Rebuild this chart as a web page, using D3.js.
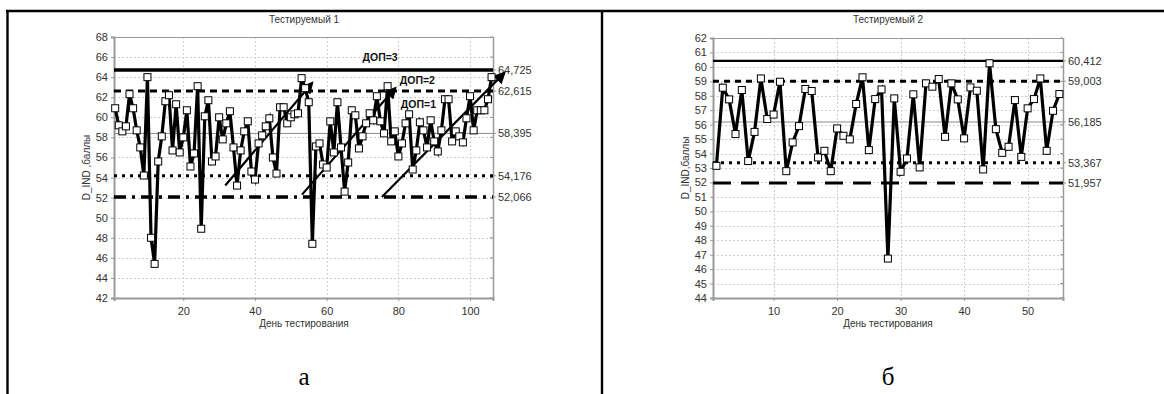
<!DOCTYPE html>
<html>
<head>
<meta charset="utf-8">
<script src="https://cdn.jsdelivr.net/npm/d3@7"></script>
<style>
  body { margin: 0; background: #fff; }
  svg { display: block; }
  text { font-family: "Liberation Sans", Arial, sans-serif; }
</style>
</head>
<body>
<svg id="chart" width="1164" height="394"></svg>
<script>
// ---- Data: daily D_IND scores (баллы) ----
const valuesA = [
  60.9, 59.2, 58.6, 59.1, 62.3, 60.9, 58.7, 57.0, 54.2, 64.0,
  48.0, 45.4, 55.6, 58.1, 61.6, 62.2, 56.7, 61.3, 56.5, 58.0,
  60.7, 55.1, 56.4, 63.1, 48.9, 60.1, 61.7, 55.6, 56.1, 60.0,
  57.8, 59.4, 60.6, 57.0, 53.2, 56.7, 58.6, 59.6, 54.6, 53.8,
  57.4, 58.2, 59.1, 59.9, 56.0, 54.4, 61.0, 61.0, 59.4, 60.0,
  60.3, 60.4, 63.9, 62.9, 61.5, 47.4, 57.1, 57.4, 55.3, 55.0,
  59.6, 56.5, 61.5, 57.0, 52.6, 55.5, 60.7, 60.2, 56.9, 58.1,
  59.4, 60.4, 59.7, 62.1, 59.6, 58.4, 63.1, 57.6, 58.6, 56.1,
  57.4, 59.4, 60.3, 54.8, 56.7, 59.5, 58.7, 57.0, 59.7, 57.6,
  56.6, 58.7, 61.8, 61.8, 57.6, 58.6, 58.1, 57.5, 59.9, 62.1,
  58.7, 60.7, 60.7, 60.7, 61.8, 64.0
];
const valuesB = [
  53.15, 58.56, 57.75, 55.35, 58.40, 53.48, 55.50, 59.20, 56.39, 56.70,
  58.97, 52.78, 54.77, 55.90, 58.47, 58.33, 53.73, 54.19, 52.78, 55.74,
  55.23, 54.98, 57.43, 59.28, 54.24, 57.77, 58.44, 46.73, 57.82, 52.74,
  53.66, 58.10, 53.04, 58.86, 58.63, 59.16, 55.16, 58.86, 57.75, 55.05,
  58.58, 58.35, 52.90, 60.25, 55.69, 54.05, 54.47, 57.70, 53.77, 57.13,
  57.77, 59.20, 54.19, 56.96, 58.12
];

// Control limits (ДОП levels, mean, lower limits)
const limitsA = [64.725, 62.615, 58.395, 54.176, 52.066];
const limitsB = [60.412, 59.003, 56.185, 53.367, 51.957];

// Axis ticks
const xTicksA = [20, 40, 60, 80, 100];
const yTicksA = [42, 44, 46, 48, 50, 52, 54, 56, 58, 60, 62, 64, 66, 68];
const xTicksB = [10, 20, 30, 40, 50];
const yTicksB = [44, 45, 46, 47, 48, 49, 50, 51, 52, 53, 54, 55, 56, 57, 58, 59, 60, 61, 62];

// Trend arrows (day, score) and level captions for subject 1
const arrowsA = [
  { from: [31.7, 53.2], to: [55.9, 63.4] },
  { from: [53.1, 52.3], to: [79.1, 62.9] },
  { from: [75.4, 52.07], to: [109.5, 64.4] }
];
const levelLabelsA = [
  { text: "ДОП=3", day: 74.9, value: 65.98 },
  { text: "ДОП=2", day: 85.3, value: 63.72 },
  { text: "ДОП=1", day: 85.6, value: 61.33 }
];

const titles = ["Тестируемый 1", "Тестируемый 2"];
const xAxisTitle = "День тестирования";
const yAxisTitles = ["D_IND ,баллы", "D_IND,баллы"];
const panelLetters = ["а", "б"];

const svg = d3.select("#chart");

// Table frame around the two panels
const frame = svg.append("g").attr("stroke", "#000").attr("stroke-width", 2.4);
frame.append("line").attr("x1", 6).attr("x2", 1164).attr("y1", 11).attr("y2", 11);
frame.append("line").attr("x1", 7.5).attr("x2", 7.5).attr("y1", 10).attr("y2", 394);
frame.append("line").attr("x1", 602).attr("x2", 602).attr("y1", 10).attr("y2", 394);

// arrowhead marker
svg.append("defs").append("marker")
  .attr("id", "arrowhead")
  .attr("viewBox", "0 0 10 10")
  .attr("refX", 8).attr("refY", 5)
  .attr("markerWidth", 6).attr("markerHeight", 5.5)
  .attr("markerUnits", "strokeWidth")
  .attr("orient", "auto")
  .append("path").attr("d", "M0,0 L10,5 L0,10 z").attr("fill", "#000");

const fmtComma = v => d3.format(".3f")(v).replace(".", ",");

function drawPanel(cfg) {
  const g = svg.append("g");
  const x = d3.scaleLinear().domain(cfg.xDomain).range([cfg.left, cfg.right]);
  const y = d3.scaleLinear().domain(cfg.yDomain).range([cfg.bottom, cfg.top]);

  // grid
  const grid = g.append("g").attr("stroke", "#d0ccd0").attr("stroke-width", 1)
    .attr("stroke-dasharray", "2,2");
  grid.selectAll("line.h").data(cfg.yTicks).join("line")
    .attr("x1", cfg.left).attr("x2", cfg.right)
    .attr("y1", d => Math.round(y(d)) + 0.5).attr("y2", d => Math.round(y(d)) + 0.5);
  grid.selectAll("line.v").data(cfg.xTicks).join("line")
    .attr("y1", cfg.top).attr("y2", cfg.bottom)
    .attr("x1", d => Math.round(x(d)) + 0.5).attr("x2", d => Math.round(x(d)) + 0.5);

  // plot box: top/right thin, left/bottom via axes
  g.append("line").attr("x1", cfg.left).attr("x2", cfg.right)
    .attr("y1", cfg.top + 0.5).attr("y2", cfg.top + 0.5).attr("stroke", "#9a9a9a");
  g.append("line").attr("x1", cfg.right + 0.5).attr("x2", cfg.right + 0.5)
    .attr("y1", cfg.top).attr("y2", cfg.bottom).attr("stroke", "#9a9a9a").attr("stroke-width", 1.5);

  // left axis
  const yAxis = g.append("g").attr("transform", `translate(${cfg.left},0)`)
    .call(d3.axisLeft(y).tickValues(cfg.yTicks).tickSize(3).tickPadding(3).tickFormat(d3.format("d")));
  yAxis.select(".domain").attr("stroke", "#999").attr("stroke-width", 2);
  yAxis.selectAll(".tick line").attr("stroke", "#999");
  yAxis.selectAll("text").attr("fill", "#333").style("font-size", "11px")
    .style("font-family", "'Liberation Sans', Arial, sans-serif");

  // bottom axis
  const xAxis = g.append("g").attr("transform", `translate(0,${cfg.bottom})`)
    .call(d3.axisBottom(x).tickValues(cfg.xTicks).tickSize(3).tickPadding(6).tickFormat(d3.format("d")));
  xAxis.select(".domain").attr("stroke", "#999").attr("stroke-width", 2);
  xAxis.selectAll(".tick line").attr("stroke", "#999");
  xAxis.selectAll("text").attr("fill", "#333").style("font-size", "11px")
    .style("font-family", "'Liberation Sans', Arial, sans-serif");

  // right-side inner ticks at the grid rows
  g.append("g").selectAll("line").data(cfg.yTicks).join("line")
    .attr("x1", cfg.right - 3).attr("x2", cfg.right)
    .attr("y1", d => y(d)).attr("y2", d => y(d)).attr("stroke", "#999");

  // control limit lines
  const styles = cfg.limitStyles;
  g.append("g").selectAll("line").data(cfg.limits).join("line")
    .attr("x1", cfg.left).attr("x2", cfg.right)
    .attr("y1", d => y(d)).attr("y2", d => y(d))
    .attr("stroke", (d, i) => styles[i].color)
    .attr("stroke-width", (d, i) => styles[i].width)
    .attr("stroke-dasharray", (d, i) => styles[i].dash);

  // limit labels on the right
  const rl = g.append("g");
  rl.selectAll("line").data(cfg.limits).join("line")
    .attr("x1", cfg.right).attr("x2", cfg.right + 3)
    .attr("y1", d => y(d)).attr("y2", d => y(d)).attr("stroke", "#999");
  rl.selectAll("text").data(cfg.limits).join("text")
    .attr("x", cfg.right + 5).attr("y", d => y(d)).attr("dy", "0.35em")
    .attr("fill", "#333").style("font-size", "11px")
    .text(d => fmtComma(d));

  // series line
  const pts = cfg.values.map((v, i) => [i + 1, v]);
  g.append("path").datum(pts)
    .attr("fill", "none").attr("stroke", "#000").attr("stroke-width", 3.2)
    .attr("stroke-linejoin", "miter").attr("stroke-miterlimit", 4)
    .attr("d", d3.line().x(d => x(d[0])).y(d => y(d[1])));

  // trend arrows
  if (cfg.arrows) {
    g.append("g").selectAll("line").data(cfg.arrows).join("line")
      .attr("x1", d => x(d.from[0])).attr("y1", d => y(d.from[1]))
      .attr("x2", d => x(d.to[0])).attr("y2", d => y(d.to[1]))
      .attr("stroke", "#000").attr("stroke-width", 2.2)
      .attr("marker-end", "url(#arrowhead)");
  }

  // square markers
  const ms = 7;
  g.append("g").selectAll("rect").data(pts).join("rect")
    .attr("x", d => x(d[0]) - ms / 2).attr("y", d => y(d[1]) - ms / 2)
    .attr("width", ms).attr("height", ms)
    .attr("fill", "#fff").attr("stroke", "#000").attr("stroke-width", 1);

  if (cfg.levelLabels) {
    g.append("g").selectAll("text").data(cfg.levelLabels).join("text")
      .attr("x", d => x(d.day)).attr("y", d => y(d.value)).attr("dy", "0.35em")
      .attr("text-anchor", "middle").attr("font-weight", "bold")
      .attr("fill", "#111").style("font-size", "10.5px")
      .text(d => d.text);
  }

  // titles
  g.append("text").attr("x", cfg.titleX).attr("y", 23)
    .attr("text-anchor", "middle").attr("fill", "#333").style("font-size", "10px")
    .text(cfg.title);
  g.append("text").attr("x", cfg.titleX).attr("y", 327)
    .attr("text-anchor", "middle").attr("fill", "#333").style("font-size", "10px")
    .text(xAxisTitle);
  g.append("text")
    .attr("transform", `translate(${cfg.yTitleX},${(cfg.top + cfg.bottom) / 2}) rotate(-90)`)
    .attr("text-anchor", "middle").attr("fill", "#333").style("font-size", "10px")
    .text(cfg.yTitle);
  g.append("text").attr("x", cfg.titleX).attr("y", 385)
    .attr("text-anchor", "middle").attr("fill", "#000")
    .style("font-family", "'Liberation Serif', 'Times New Roman', serif")
    .style("font-size", "25px")
    .text(cfg.letter);
}

drawPanel({
  values: valuesA, limits: limitsA,
  xDomain: [0.67, 106.4], yDomain: [42, 68],
  xTicks: xTicksA, yTicks: yTicksA,
  left: 114, right: 493, top: 37, bottom: 298,
  title: titles[0], yTitle: yAxisTitles[0], letter: panelLetters[0],
  titleX: 304, yTitleX: 90,
  limitStyles: [
    { color: "#000", width: 3.5, dash: null },
    { color: "#000", width: 3, dash: "7,5" },
    { color: "#8a8a8a", width: 1, dash: null },
    { color: "#000", width: 3, dash: "3,5" },
    { color: "#000", width: 3.5, dash: "12,6,3,6" }
  ],
  arrows: arrowsA, levelLabels: levelLabelsA
});

drawPanel({
  values: valuesB, limits: limitsB,
  xDomain: [0.46, 55.57], yDomain: [44, 62],
  xTicks: xTicksB, yTicks: yTicksB,
  left: 713, right: 1063, top: 38, bottom: 298,
  title: titles[1], yTitle: yAxisTitles[1], letter: panelLetters[1],
  titleX: 888, yTitleX: 689,
  limitStyles: [
    { color: "#000", width: 2.2, dash: null },
    { color: "#000", width: 3, dash: "6,5" },
    { color: "#8a8a8a", width: 1, dash: null },
    { color: "#000", width: 3, dash: "3,5" },
    { color: "#000", width: 3, dash: "18,10" }
  ]
});
</script>
</body>
</html>
